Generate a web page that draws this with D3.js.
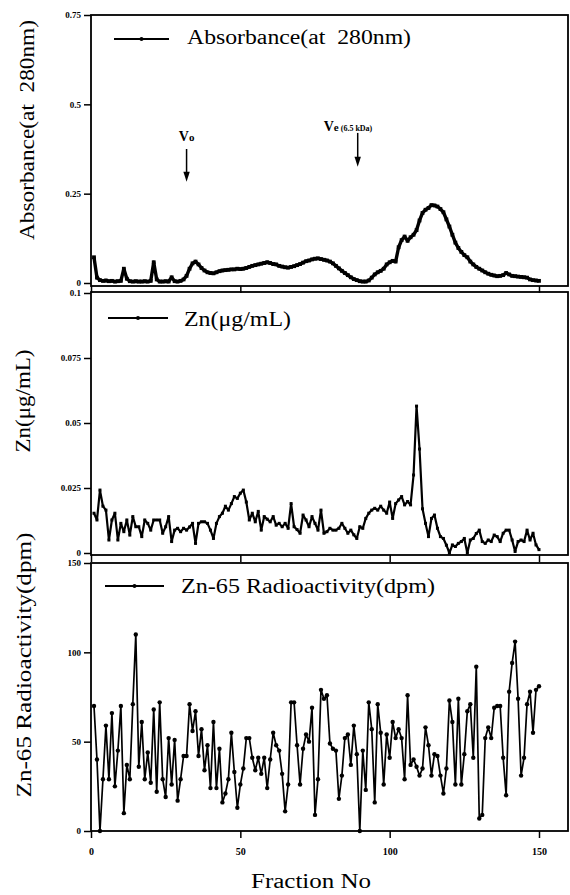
<!DOCTYPE html>
<html><head><meta charset="utf-8">
<script src="https://cdn.jsdelivr.net/npm/d3@7"></script>
<style>body{margin:0;background:#fff}svg{display:block}</style>
</head><body><svg id="c" width="570" height="895"></svg>
<script>
const fractions = d3.range(1, 151);

const absorbance = [
0.072,0.015,0.008,0.006,0.007,0.005,0.006,0.004,0.005,0.006,
0.040,0.012,0.005,0.004,0.005,0.004,0.004,0.005,0.004,0.006,
0.058,0.010,0.004,0.004,0.005,0.004,0.016,0.005,0.004,0.006,
0.010,0.020,0.040,0.055,0.060,0.052,0.042,0.035,0.030,0.028,
0.027,0.030,0.033,0.035,0.036,0.037,0.038,0.038,0.040,0.039,
0.040,0.042,0.045,0.048,0.050,0.052,0.054,0.056,0.058,0.056,
0.053,0.052,0.048,0.046,0.044,0.043,0.045,0.047,0.050,0.053,
0.057,0.061,0.063,0.066,0.068,0.069,0.067,0.065,0.063,0.060,
0.055,0.048,0.041,0.034,0.028,0.022,0.016,0.011,0.008,0.005,
0.004,0.004,0.007,0.015,0.024,0.030,0.034,0.040,0.052,0.058,
0.062,0.060,0.100,0.120,0.130,0.118,0.128,0.135,0.148,0.175,
0.196,0.205,0.210,0.218,0.217,0.214,0.207,0.198,0.178,0.158,
0.135,0.113,0.098,0.087,0.078,0.072,0.060,0.052,0.045,0.040,
0.035,0.030,0.026,0.023,0.021,0.019,0.020,0.022,0.028,0.024,
0.020,0.019,0.018,0.017,0.016,0.015,0.010,0.008,0.007,0.006];

const zinc = [
0.0153,0.0127,0.0242,0.0180,0.0165,0.0050,0.0127,0.0153,0.0050,0.0114,
0.0082,0.0127,0.0069,0.0140,0.0101,0.0101,0.0063,0.0127,0.0114,0.0088,
0.0127,0.0127,0.0127,0.0076,0.0101,0.0140,0.0044,0.0088,0.0095,0.0082,
0.0095,0.0088,0.0100,0.0114,0.0037,0.0114,0.0120,0.0120,0.0114,0.0088,
0.0056,0.0114,0.0140,0.0153,0.0180,0.0165,0.0190,0.0217,0.0210,0.0230,
0.0242,0.0196,0.0127,0.0153,0.0120,0.0160,0.0088,0.0140,0.0130,0.0120,
0.0140,0.0107,0.0114,0.0101,0.0114,0.0095,0.0190,0.0101,0.0090,0.0076,
0.0146,0.0127,0.0101,0.0140,0.0114,0.0088,0.0165,0.0076,0.0082,0.0095,
0.0088,0.0088,0.0095,0.0114,0.0095,0.0076,0.0088,0.0070,0.0056,0.0101,
0.0095,0.0133,0.0153,0.0165,0.0172,0.0165,0.0180,0.0165,0.0153,0.0196,
0.0133,0.0190,0.0204,0.0217,0.0185,0.0198,0.0185,0.0300,0.0565,0.0400,
0.0170,0.0114,0.0063,0.0133,0.0146,0.0095,0.0063,0.0056,0.0030,0.0000,
0.0031,0.0025,0.0037,0.0044,0.0056,0.0000,0.0050,0.0056,0.0075,0.0088,
0.0044,0.0037,0.0050,0.0044,0.0069,0.0063,0.0044,0.0076,0.0088,0.0088,
0.0050,0.0006,0.0044,0.0050,0.0044,0.0088,0.0050,0.0076,0.0031,0.0013];

const radioactivity = [
70,40,0,29,59,29,66,25,45,70,
10,37,29,71,110,36,61,29,44,27,
68,22,72,29,19,52,26,51,17,29,
42,42,71,56,67,42,57,34,48,24,
61,24,46,16,21,29,55,33,13,26,
35,52,52,41,34,41,32,41,24,40,
55,48,45,32,11,26,72,72,48,26,
46,54,50,69,9,29,79,74,76,49,
46,45,18,31,52,54,37,59,43,0,
45,23,72,57,16,71,55,26,54,41,
61,52,57,52,29,76,37,40,36,31,
35,58,48,31,43,42,31,21,35,73,
61,26,74,26,43,67,71,41,92,7,
9,52,58,52,69,70,70,41,20,78,
94,106,74,31,41,71,78,55,79,81];

const xTickValues = [0, 50, 100, 150];
const xTickLabels = ["0", "50", "100", "150"];
const absTickValues = [0, 0.25, 0.5, 0.75];
const absTickLabels = ["0", "0.25", "0.5", "0.75"];
const znTickValues = [0, 0.025, 0.05, 0.075, 0.1];
const znTickLabels = ["0", "0.025", "0.05", "0.075", "0.1"];
const radTickValues = [0, 50, 100, 150];
const radTickLabels = ["0", "50", "100", "150"];
const seriesNames = ["Absorbance(at  280nm)", "Zn(\u03bcg/mL)", "Zn-65 Radioactivity(dpm)"];
const yTitles = ["Absorbance(at  280nm)", "Zn(\u03bcg/mL)", "Zn-65 Radioactivity(dpm)"];
const xTitle = "Fraction No";
const markerLabels = ["V", "V"];
const markerSubs = ["o", "e"];
const markerNotes = ["", "(6.5 kDa)"];
const markerFractions = [32, 89.3];

const FONT = "Liberation Serif, Times New Roman, serif";
const svg = d3.select("#c");
const left = 91, right = 568;
const x = d3.scaleLinear().domain([0, 150]).range([left, 539]);

const panels = [
  {data: absorbance, domain:[0,0.75], range:[283,15], top:15, bottom:286,
   ticks:absTickValues, labels:absTickLabels, name:seriesNames[0], title:yTitles[0],
   lw:3.4, mark:"sq", ms:3.8,
   legend:{x1:114,x2:169,ly:39,tx:187,ty:44,tl:224},
   titlePos:{x:34,y:130,len:220}},
  {data: zinc, domain:[0,0.1], range:[553,293], top:292, bottom:555,
   ticks:znTickValues, labels:znTickLabels, name:seriesNames[1], title:yTitles[1],
   lw:2.2, mark:"sq", ms:3,
   legend:{x1:108,x2:168,ly:318,tx:184,ty:326,tl:107},
   titlePos:{x:30,y:401,len:103}},
  {data: radioactivity, domain:[0,150], range:[831,563], top:563, bottom:831,
   ticks:radTickValues, labels:radTickLabels, name:seriesNames[2], title:yTitles[2],
   lw:1.7, mark:"c", ms:2.2,
   legend:{x1:105,x2:164,ly:586,tx:181,ty:593,tl:254},
   titlePos:{x:31,y:665,len:265}}
];

panels.forEach((p, i) => {
  const y = d3.scaleLinear().domain(p.domain).range(p.range);
  p.y = y;
  const g = svg.append("g");
  g.append("rect").attr("x", left).attr("y", p.top)
    .attr("width", right - left).attr("height", p.bottom - p.top)
    .attr("fill", "none").attr("stroke", "#000").attr("stroke-width", 1.8);
  const ya = g.append("g").attr("transform", `translate(${left},0)`)
    .call(d3.axisLeft(y).tickValues(p.ticks).tickSize(7).tickPadding(3)
      .tickFormat((d, k) => p.labels[k]));
  ya.select(".domain").remove();
  ya.selectAll("line").attr("stroke", "#000").attr("stroke-width", 1.5);
  ya.selectAll("text").attr("font-family", FONT).attr("font-size", 9)
    .attr("font-weight", "bold").attr("fill", "#000");
  const xa = g.append("g").attr("transform", `translate(0,${p.bottom})`)
    .call(d3.axisBottom(x).tickValues(xTickValues).tickSize(7).tickPadding(10)
      .tickFormat((d, k) => i === 2 ? xTickLabels[k] : ""));
  xa.select(".domain").remove();
  xa.selectAll("line").attr("stroke", "#000").attr("stroke-width", 1.5);
  xa.selectAll("text").attr("font-family", FONT).attr("font-size", 10)
    .attr("font-weight", "bold").attr("fill", "#000");
  const line = d3.line().x((d, k) => x(fractions[k])).y(d => y(d));
  g.append("path").datum(p.data).attr("d", line).attr("fill", "none")
    .attr("stroke", "#000").attr("stroke-width", p.lw).attr("stroke-linejoin", "round");
  if (p.mark === "sq") {
    g.selectAll(".m").data(p.data).join("rect")
      .attr("x", (d, k) => x(fractions[k]) - p.ms / 2)
      .attr("y", d => y(d) - p.ms / 2)
      .attr("width", p.ms).attr("height", p.ms).attr("fill", "#000");
  } else {
    g.selectAll(".m").data(p.data).join("circle")
      .attr("cx", (d, k) => x(fractions[k])).attr("cy", d => y(d))
      .attr("r", p.ms).attr("fill", "#000");
  }
  const L = p.legend;
  g.append("line").attr("x1", L.x1).attr("x2", L.x2).attr("y1", L.ly).attr("y2", L.ly)
    .attr("stroke", "#000").attr("stroke-width", 1.8);
  g.append("circle").attr("cx", (L.x1 + L.x2) / 2).attr("cy", L.ly).attr("r", 2).attr("fill", "#000");
  g.append("text").attr("x", L.tx).attr("y", L.ty).text(p.name)
    .attr("font-family", FONT).attr("font-size", 20).attr("fill", "#000")
    .attr("textLength", L.tl).attr("lengthAdjust", "spacingAndGlyphs")
    .style("white-space", "pre");
  const T = p.titlePos;
  g.append("text").attr("transform", `translate(${T.x},${T.y}) rotate(-90)`)
    .attr("text-anchor", "middle").text(p.title)
    .attr("font-family", FONT).attr("font-size", 20).attr("fill", "#000")
    .attr("textLength", T.len).attr("lengthAdjust", "spacingAndGlyphs")
    .style("white-space", "pre");
});

svg.append("text").attr("x", 311).attr("y", 888).attr("text-anchor", "middle")
  .text(xTitle).attr("font-family", FONT).attr("font-size", 20).attr("fill", "#000")
  .attr("textLength", 120).attr("lengthAdjust", "spacingAndGlyphs");

const y1 = panels[0].y;
const annTop = [0.375, 0.42];
const annBottom = [0.283, 0.325];
const annText = [0.397, 0.425];
markerFractions.forEach((f, k) => {
  const ax = x(f);
  const yt = y1(annTop[k]), yb = y1(annBottom[k]);
  svg.append("line").attr("x1", ax).attr("x2", ax).attr("y1", yt).attr("y2", yb - 8)
    .attr("stroke", "#000").attr("stroke-width", 1.5);
  svg.append("path").attr("d", `M${ax - 3.2},${yb - 10}L${ax + 3.2},${yb - 10}L${ax},${yb}Z`)
    .attr("fill", "#000");
  const t = svg.append("text").attr("font-family", FONT).attr("fill", "#000")
    .attr("font-weight", "bold").attr("y", y1(annText[k]));
  if (k === 0) {
    t.attr("x", ax).attr("text-anchor", "middle");
  } else {
    t.attr("x", ax - 34);
  }
  t.append("tspan").text(markerLabels[k]).attr("font-size", 14);
  t.append("tspan").text(markerSubs[k]).attr("font-size", 11);
  if (markerNotes[k]) t.append("tspan").text(" " + markerNotes[k]).attr("font-size", 8);
});
</script></body></html>
